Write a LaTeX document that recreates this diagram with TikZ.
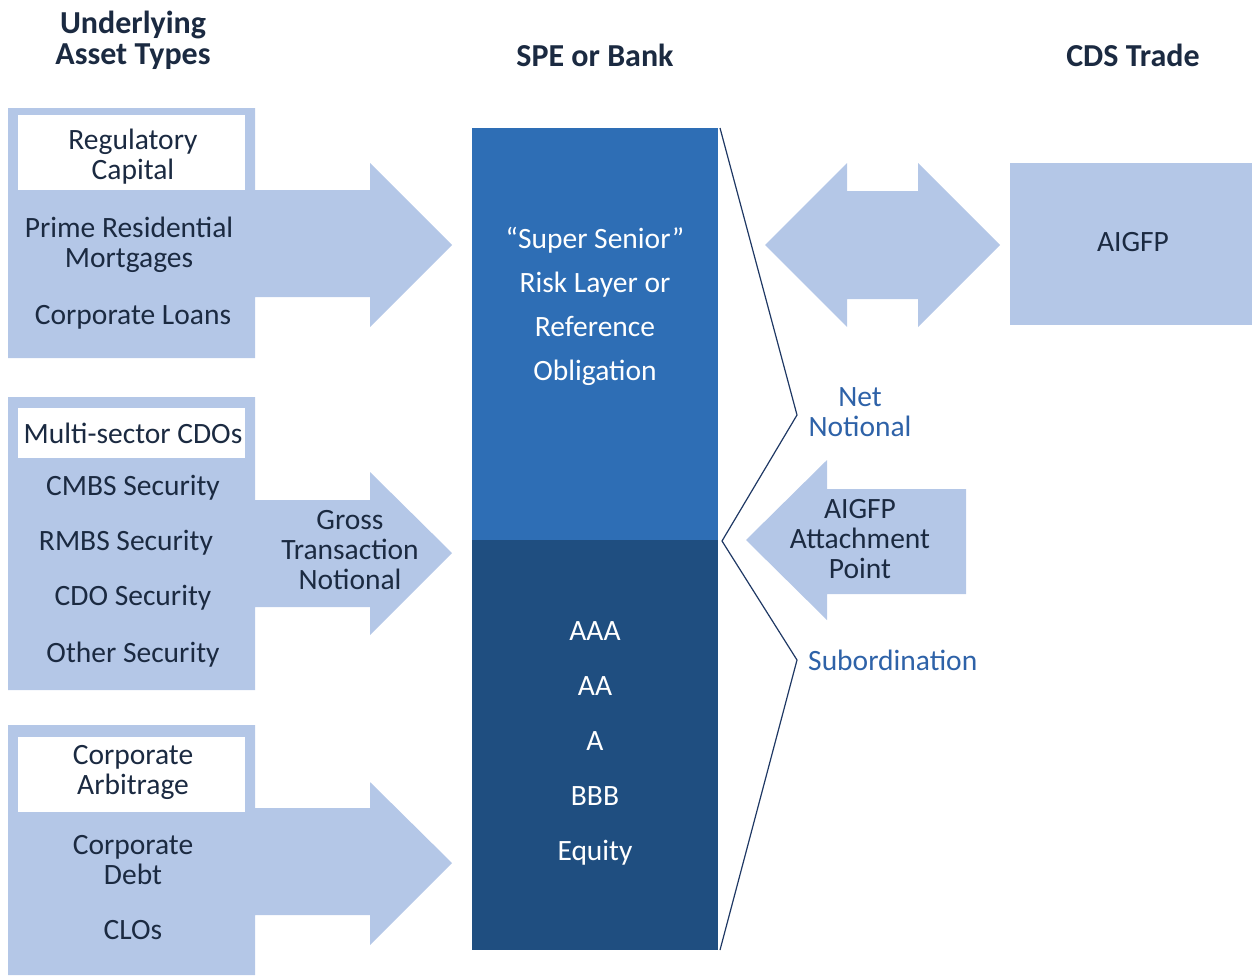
\documentclass[tikz,border=0pt]{standalone}
\usepackage{fontspec}
\setmainfont{Carlito}
\definecolor{lightblue}{HTML}{B4C7E7}
\definecolor{midblue}{HTML}{2E6EB5}
\definecolor{darkblue}{HTML}{1F4E80}
\definecolor{navy}{HTML}{1B2A41}
\definecolor{linecol}{HTML}{1F3864}
\definecolor{labblue}{HTML}{2E62A8}
\begin{document}
\begin{tikzpicture}[x=1pt,y=-1pt,
  txt/.style={text=navy, font=\fontsize{29.5}{30}\selectfont, align=center, inner sep=0pt},
  head/.style={text=navy, font=\bfseries\fontsize{32}{31}\selectfont, align=center, inner sep=0pt},
  wtxt/.style={text=white, align=center, inner sep=0pt},
  lab/.style={text=labblue, font=\fontsize{29.5}{30}\selectfont, align=center, inner sep=0pt},
  blk/.style={fill=lightblue, draw=none},
  wbox/.style={fill=white, draw=none}]
\useasboundingbox (0,0) rectangle (1252,975);

% headings
\node[head] (h1) at (133,40) {Underlying\\Asset Types};
\node[head] (h2) at (595,55) {SPE or Bank};
\node[head] (h3) at (1133,55) {CDS Trade};

% group 1
\fill[blk] (8,108) -- (255,108) -- (255,190) -- (370,190) -- (370,163) -- (452,245) -- (370,327) -- (370,297) -- (255,297) -- (255,358) -- (8,358) -- cycle;
\fill[wbox] (18,115) rectangle (245,190);
\node[txt] (g1a) at (133,157) {Regulatory\\Capital};
\node[txt] (g1b) at (129,245) {Prime Residential\\Mortgages};
\node[txt] (g1c) at (133,317) {Corporate Loans};

% group 2
\fill[blk] (8,397) -- (255,397) -- (255,500) -- (370,500) -- (370,472) -- (452,553) -- (370,635) -- (370,607) -- (255,607) -- (255,690) -- (8,690) -- cycle;
\fill[wbox] (18,408) rectangle (245,458);
\node[txt] (g2a) at (133,433) {Multi-sector CDOs};
\node[txt] (g2b) at (133,488) {CMBS Security};
\node[txt] (g2c) at (126,543) {RMBS Security};
\node[txt] (g2d) at (133,598) {CDO Security};
\node[txt] (g2e) at (133,655) {Other Security};
\node[txt] (gross) at (350,550) {Gross\\Transaction\\Notional};

% group 3
\fill[blk] (8,725) -- (255,725) -- (255,808) -- (370,808) -- (370,782) -- (452,863) -- (370,945) -- (370,915) -- (255,915) -- (255,975) -- (8,975) -- cycle;
\fill[wbox] (18,737) rectangle (245,812);
\node[txt] (g3a) at (133,772) {Corporate\\Arbitrage};
\node[txt] (g3b) at (133,860) {Corporate\\Debt};
\node[txt] (g3c) at (133,930) {CLOs};

% central column
\fill[midblue] (472,128) rectangle (718,540);
\fill[darkblue] (472,540) rectangle (718,950);
\node[wtxt, font=\fontsize{29.5}{44}\selectfont] (ss) at (595,306) {“Super Senior”\\Risk Layer or\\Reference\\Obligation};
\node[wtxt, font=\fontsize{29.5}{55}\selectfont] (rt) at (595,743) {AAA\\AA\\A\\BBB\\Equity};

% brace line
\coordinate (b0) at (720,128);
\coordinate (b1) at (797,415);
\coordinate (b2) at (722,541);
\coordinate (b3) at (797,660);
\coordinate (b4) at (720,950);
\draw[linecol, line width=1.2pt, line join=miter] (b0) -- (b1) -- (b2) -- (b3) -- (b4);
\node[lab] (net) at (860,412) {Net\\Notional};
\node[lab, anchor=west] (sub) at (808,660) {Subordination};

% double arrow
\fill[blk] (765,245) -- (847,163) -- (847,191) -- (918,191) -- (918,163) -- (1000,245) -- (918,327) -- (918,299) -- (847,299) -- (847,327) -- cycle;
% AIGFP box
\fill[blk] (1010,163) rectangle (1252,325);
\node[txt] (aig) at (1133,242) {AIGFP};

% attachment arrow
\fill[blk] (746,540) -- (827,460) -- (827,489) -- (966,489) -- (966,594) -- (827,594) -- (827,620) -- cycle;
\node[txt] (att) at (860,539) {AIGFP\\Attachment\\Point};
\end{tikzpicture}
\end{document}
